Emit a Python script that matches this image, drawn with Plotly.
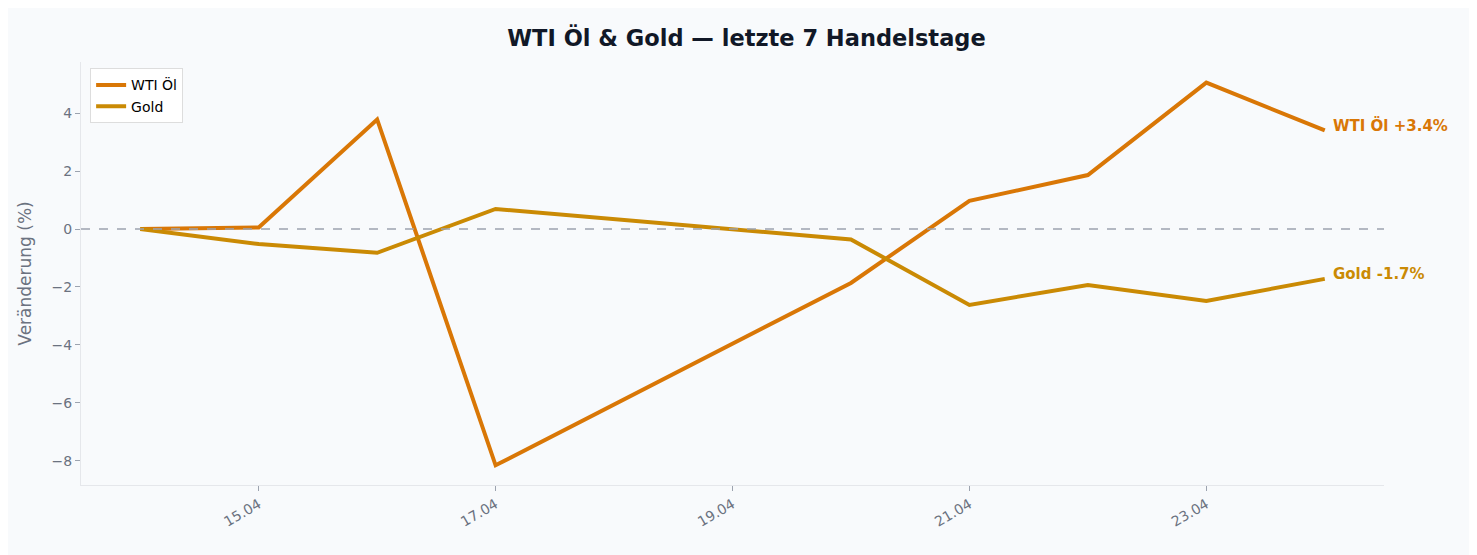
import plotly.graph_objects as go

dates = ["2024-04-14","2024-04-15","2024-04-16","2024-04-17","2024-04-20","2024-04-21","2024-04-22","2024-04-23","2024-04-24"]
wti = [0.0, 0.05, 3.78, -8.15, -1.86, 0.97, 1.86, 5.05, 3.4]
gold = [0.0, -0.52, -0.82, 0.69, -0.36, -2.62, -1.93, -2.48, -1.72]
tick_vals = ["2024-04-15","2024-04-17","2024-04-19","2024-04-21","2024-04-23"]
tick_text = ["15.04","17.04","19.04","21.04","23.04"]

c_wti = "#d97706"; c_gold = "#ca8a04"
fig = go.Figure()
fig.add_trace(go.Scatter(x=dates, y=wti, mode="lines", name="WTI Öl", line=dict(color=c_wti, width=4)))
fig.add_trace(go.Scatter(x=dates, y=gold, mode="lines", name="Gold", line=dict(color=c_gold, width=4)))
fig.add_hline(y=0, line=dict(color="#9ca3af", width=1.3, dash="dash"))
fig.add_annotation(x=dates[-1], y=wti[-1], text=f"<b>WTI Öl +{wti[-1]:.1f}%</b>", showarrow=False,
                   xanchor="left", xshift=6, yshift=5, font=dict(color=c_wti, size=15))
fig.add_annotation(x=dates[-1], y=gold[-1], text=f"<b>Gold {gold[-1]:.1f}%</b>", showarrow=False,
                   xanchor="left", xshift=6, yshift=5, font=dict(color=c_gold, size=15))
fig.update_layout(
    width=1477, height=555, paper_bgcolor="#f8fafc", plot_bgcolor="#f8fafc",
    font=dict(family="DejaVu Sans", color="#6b7280", size=14),
    title=dict(text="<b>WTI Öl & Gold — letzte 7 Handelstage</b>", x=0.5, y=0.96, xanchor="center",
               font=dict(size=22.5, color="#111827")),
    margin=dict(l=73, r=101, t=54, b=78),
    legend=dict(x=0.007, y=0.985, xanchor="left", yanchor="top", bgcolor="white",
                bordercolor="#dddddd", borderwidth=1, font=dict(color="black", size=14)),
    showlegend=True,
)
fig.update_xaxes(range=["2024-04-13 12:00","2024-04-24 12:00"], tickvals=tick_vals, ticktext=tick_text,
                 tickangle=-30, showgrid=False, zeroline=False, showline=True, linecolor="#e5e7eb",
                 ticks="outside", tickcolor="#9ca3af", ticklen=5)
fig.update_yaxes(range=[-8.83, 5.76], tickvals=[-8,-6,-4,-2,0,2,4],
                 ticktext=["−8","−6","−4","−2","0","2","4"], title_text="Veränderung (%)",
                 showgrid=False, zeroline=False, showline=True, linecolor="#e5e7eb",
                 ticks="outside", tickcolor="#9ca3af", ticklen=5)
fig.write_html("out.html")
